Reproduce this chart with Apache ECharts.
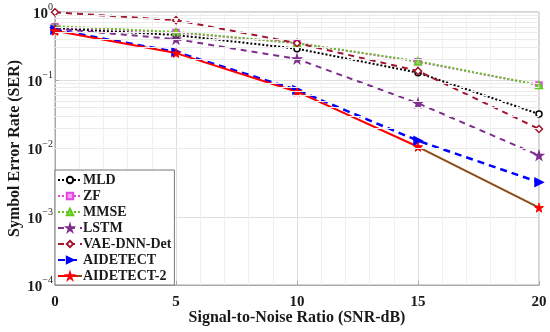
<!DOCTYPE html>
<html><head><meta charset="utf-8">
<script src="https://cdn.jsdelivr.net/npm/echarts@6/dist/echarts.min.js"></script>
<style>html,body{margin:0;padding:0;background:#fff}#c{width:550px;height:332px}</style>
</head><body><div id="c"></div>
<script>
const snr = [0, 5, 10, 15, 20];
const seriesNames = ['MLD', 'ZF', 'MMSE', 'LSTM', 'VAE-DNN-Det', 'AIDETECT', 'AIDETECT-2'];
const mld = [0.58, 0.46, 0.29, 0.129, 0.032];
const zf = [0.61, 0.50, 0.35, 0.187, 0.085];
const mmse = [0.62, 0.51, 0.35, 0.19, 0.085];
const lstm = [0.57, 0.40, 0.205, 0.046, 0.0079];
const vae = [0.99, 0.76, 0.35, 0.137, 0.0193];
const aidetect = [0.55, 0.26, 0.072, 0.013, 0.0032];
const aidetect2 = [0.53, 0.25, 0.068, 0.0106, 0.00136];
const minorY = [];
[1e-4, 1e-3, 1e-2, 1e-1].forEach(d => { for (let k = 2; k <= 9; k++) minorY.push(+(d * k).toPrecision(3)); });

const FONT = '"Liberation Serif", "Times New Roman", serif';
const star = 'path://M50,0 L61,35 L98,35 L68,57 L79,91 L50,70 L21,91 L32,57 L2,35 L39,35 Z';
const pair = arr => snr.map((x, i) => [x, arr[i]]);

function mk(name, data, color, type, width, symbol, size, fill, extra) {
  return Object.assign({
    name, type: 'line', data: pair(data), symbol, symbolSize: size,
    lineStyle: { color, type, width },
    itemStyle: { color: fill, borderColor: color, borderWidth: 1.5 },
    z: 3
  }, extra || {});
}

const chart = echarts.init(document.getElementById('c'), null, { renderer: 'canvas' });
chart.setOption({
  animation: false,
  backgroundColor: '#fff',
  grid: { left: 55, right: 11, top: 12, bottom: 47, show: true, borderColor: '#a8a8a8', borderWidth: 1, containLabel: false, outerBoundsMode: 'none' },
  xAxis: {
    type: 'value', min: 0, max: 20, interval: 5,
    name: 'Signal-to-Noise Ratio (SNR-dB)', nameLocation: 'middle', nameGap: 25, nameMoveOverlap: false,
    nameTextStyle: { fontFamily: FONT, fontWeight: 'bold', fontSize: 16, color: '#1a1a1a' },
    axisLine: { lineStyle: { color: '#a8a8a8' } },
    axisTick: { inside: true, length: 4, lineStyle: { color: '#a8a8a8' } },
    axisLabel: { fontFamily: FONT, fontWeight: 'bold', fontSize: 15, color: '#1a1a1a', margin: 10 },
    splitLine: { lineStyle: { color: '#dedede' } },
    minorTick: { show: false, splitNumber: 5 },
    minorSplitLine: { show: true, lineStyle: { color: '#f0f0f0' } }
  },
  yAxis: {
    type: 'log', logBase: 10, min: 1e-4, max: 1,
    name: 'Symbol Error Rate (SER)', nameLocation: 'middle', nameGap: 32, nameMoveOverlap: false,
    nameTextStyle: { fontFamily: FONT, fontWeight: 'bold', fontSize: 16, color: '#1a1a1a' },
    axisLine: { lineStyle: { color: '#a8a8a8' } },
    axisTick: { inside: true, length: 4, lineStyle: { color: '#a8a8a8' } },
    axisLabel: {
      margin: 2,
      formatter: v => '{b|10}{s|' + String(Math.round(Math.log10(v))).replace('-', '−') + '}',
      rich: {
        b: { fontFamily: FONT, fontWeight: 'bold', fontSize: 15, color: '#1a1a1a', lineHeight: 19, verticalAlign: 'bottom' },
        s: { fontFamily: FONT, fontSize: 10, color: '#1a1a1a', lineHeight: 19, verticalAlign: 'top' }
      }
    },
    splitLine: { lineStyle: { color: '#dedede' } }
  },
  legend: {
    data: seriesNames, orient: 'vertical', left: 55, bottom: 47,
    backgroundColor: '#fff', borderColor: '#777', borderWidth: 1,
    padding: [3, 3, 2, 2], itemWidth: 24, itemHeight: 8, itemGap: 2,
    textStyle: { fontFamily: FONT, fontWeight: 'bold', fontSize: 14, color: '#1a1a1a', lineHeight: 14, padding: [0, 0, 0, -4] }
  },
  series: [
    {
      name: 'grid-minor', type: 'line', data: [], silent: true,
      markLine: {
        silent: true, symbol: 'none', label: { show: false },
        lineStyle: { color: '#ebebeb', type: 'solid', width: 1 },
        data: minorY.map(v => ({ yAxis: v }))
      }, z: 1
    },
    mk('MLD', mld, '#000000', 'dotted', 2, 'circle', 6, '#ffffff'),
    mk('ZF', zf, '#e246e2', 'dotted', 2, 'rect', 6, '#f0a0f0'),
    mk('MMSE', mmse, '#62c81e', 'dotted', 2, 'triangle', 7, '#8fd85a'),
    mk('LSTM', lstm, '#7e2f8e', [6, 5], 2, star, 8, '#7e2f8e'),
    mk('VAE-DNN-Det', vae, '#a2142f', [6, 5], 2, 'diamond', 7, '#ffffff'),
    mk('AIDETECT', aidetect, '#0000ff', [7, 5], 2.5, 'triangle', 8, '#0000ff', { symbolRotate: -90 }),
    mk('AIDETECT-2', aidetect2, '#ff0000', 'solid', 2, star, 9, '#ff0000', {
      lineStyle: {
        width: 2, type: 'solid',
        color: new echarts.graphic.LinearGradient(0, 0, 1, 0, [
          { offset: 0, color: '#ff0000' }, { offset: 0.75, color: '#ff0000' },
          { offset: 0.75, color: '#8b4a14' }, { offset: 1, color: '#8b4a14' }
        ])
      },
      itemStyle: { color: '#ff0000', borderColor: '#ff0000', borderWidth: 1 }
    })
  ]
});
</script></body></html>
